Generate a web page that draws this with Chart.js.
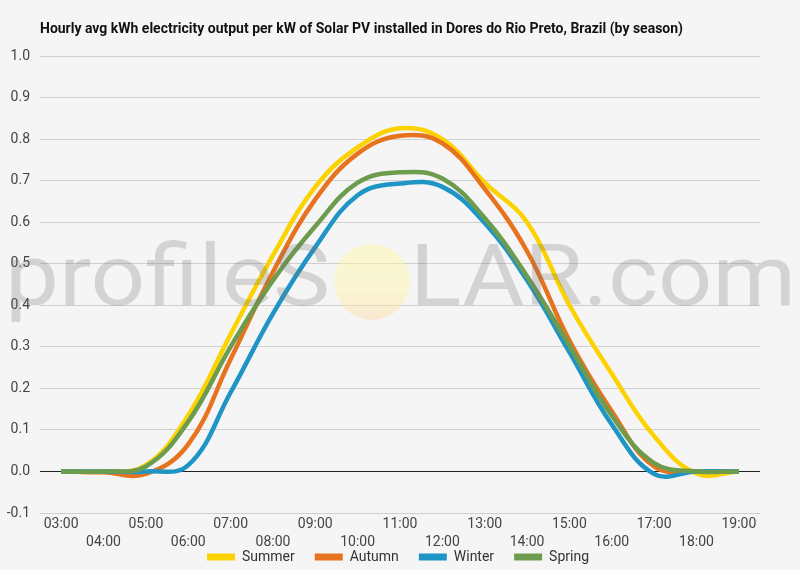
<!DOCTYPE html>
<html>
<head>
<meta charset="utf-8">
<script src="https://cdn.jsdelivr.net/npm/chart.js@4"></script>
<style>
  html, body { margin: 0; padding: 0; background: #f5f5f5; }
  #wrap { width: 800px; height: 570px; }
</style>
</head>
<body>
<div id="wrap"><canvas id="c" width="800" height="570"></canvas></div>
<script>
const titleText = 'Hourly avg kWh electricity output per kW of Solar PV installed in Dores do Rio Preto, Brazil (by season)';
const hours = ['03:00','04:00','05:00','06:00','07:00','08:00','09:00','10:00','11:00','12:00','13:00','14:00','15:00','16:00','17:00','18:00','19:00'];
const seriesNames = ['Summer', 'Autumn', 'Winter', 'Spring'];
const summer = [0, 0, 0.015, 0.135, 0.33, 0.52, 0.685, 0.78, 0.826, 0.80, 0.695, 0.60, 0.40, 0.235, 0.085, -0.005, 0];
const autumn = [0, -0.002, -0.006, 0.065, 0.27, 0.48, 0.655, 0.765, 0.808, 0.79, 0.68, 0.53, 0.315, 0.145, 0.012, 0, 0];
const winter = [0, 0, 0, 0.015, 0.19, 0.38, 0.54, 0.665, 0.693, 0.685, 0.598, 0.46, 0.287, 0.113, -0.006, 0, 0];
const spring = [0, 0, 0.012, 0.12, 0.30, 0.46, 0.59, 0.695, 0.72, 0.705, 0.61, 0.47, 0.303, 0.134, 0.02, 0, 0];
const yMin = -0.1, yMax = 1.0, yStep = 0.1;

const colors = ['#fcd200', '#e8731f', '#1f95c6', '#6e9c4f'];
const values = [summer, autumn, winter, spring];

const bgPlugin = {
  id: 'bg',
  beforeDraw(chart) {
    const ctx = chart.ctx;
    ctx.save();
    ctx.fillStyle = '#f5f5f5';
    ctx.fillRect(0, 0, chart.width, chart.height);
    ctx.restore();
  }
};

const legendFitPlugin = {
  id: 'legendFit',
  beforeInit(chart) {
    const origFit = chart.legend.fit;
    chart.legend.fit = function () {
      origFit.bind(chart.legend)();
      this.height = 16.6;
    };
  },
  afterLayout(chart) {
    const lg = chart.legend;
    const target = 557;
    const lineH = 14;
    const pad = lg.options.labels.padding;
    const curCenter = lg.top + pad + lineH / 2;
    const d = target - curCenter;
    lg.top += d;
    lg.bottom = chart.height;
    lg.left += 18;
    lg.right += 18;
  }
};

const titlePlugin = {
  id: 'customTitle',
  afterDraw(chart) {
    const ctx = chart.ctx;
    ctx.save();
    ctx.font = 'bold 15px Roboto';
    ctx.fillStyle = '#111';
    ctx.textBaseline = 'alphabetic';
    const w = ctx.measureText(titleText).width;
    const target = 643;
    ctx.translate(40, 33);
    ctx.scale(target / w, 1);
    ctx.fillText(titleText, 0, 0);
    ctx.restore();
  }
};

const watermarkPlugin = {
  id: 'watermark',
  afterDatasetsDraw(chart) {
    const ctx = chart.ctx;
    ctx.save();
    const cx = 372, cy = 282, r = 38;
    const g = ctx.createLinearGradient(0, cy - r, 0, cy + r);
    g.addColorStop(0, 'rgba(255,250,160,0.45)');
    g.addColorStop(0.6, 'rgba(255,245,170,0.45)');
    g.addColorStop(1, 'rgba(255,215,160,0.45)');
    ctx.fillStyle = g;
    ctx.beginPath();
    ctx.arc(cx, cy, r, 0, Math.PI * 2);
    ctx.fill();
    ctx.font = '86px Roboto';
    ctx.fillStyle = 'rgba(110,110,110,0.25)';
    ctx.textBaseline = 'alphabetic';
    const drawFit = (txt, x0, x1, base) => {
      const w = ctx.measureText(txt).width;
      ctx.save();
      ctx.translate(x0, base);
      ctx.scale((x1 - x0) / w, 1);
      ctx.fillText(txt, 0, 0);
      ctx.restore();
    };
    drawFit('profileS', 5, 330, 305);
    drawFit('LAR.com', 410, 796, 305);
    ctx.restore();
  }
};

const datasets = seriesNames.map((name, i) => ({
  label: name,
  data: values[i],
  borderColor: colors[i],
  backgroundColor: colors[i],
  borderWidth: 4.5,
  pointRadius: 0,
  pointHoverRadius: 0,
  tension: 0.4,
  fill: false,
  order: 4 - i
}));

new Chart(document.getElementById('c'), {
  type: 'line',
  data: { labels: hours, datasets },
  plugins: [bgPlugin, legendFitPlugin, watermarkPlugin, titlePlugin],
  options: {
    responsive: false,
    animation: false,
    devicePixelRatio: 1,
    layout: { padding: { top: 56, right: 40, left: 0, bottom: 0 } },
    plugins: {
      title: { display: false },
      tooltip: { enabled: false },
      legend: {
        position: 'bottom',
        labels: {
          font: { family: 'Roboto', size: 14 },
          color: '#333',
          boxWidth: 28,
          boxHeight: 7,
          padding: 20,
          sort: (a, b) => a.datasetIndex - b.datasetIndex,
          generateLabels(chart) {
            const items = Chart.defaults.plugins.legend.labels.generateLabels(chart);
            items.forEach(it => { it.lineWidth = 0; it.fillStyle = colors[it.datasetIndex]; });
            return items;
          }
        }
      }
    },
    scales: {
      x: {
        offset: true,
        grid: { display: false, drawTicks: false },
        border: { display: false },
        ticks: {
          autoSkip: false,
          maxRotation: 0,
          minRotation: 0,
          padding: 2,
          color: '#444',
          font: { family: 'Roboto', size: 14, lineHeight: 1.3 },
          callback(value, index) {
            const lbl = hours[index];
            return index % 2 === 0 ? [lbl] : ['', lbl];
          }
        }
      },
      y: {
        min: yMin,
        max: yMax,
        afterFit(scale) { scale.width = 40; },
        grid: {
          color: ctx => (Math.abs(ctx.tick.value) < 1e-9 ? '#222' : '#cfcfcf'),
          lineWidth: 1,
          drawTicks: false
        },
        border: { display: false },
        ticks: {
          stepSize: yStep,
          padding: 10,
          color: '#444',
          font: { family: 'Roboto', size: 14 },
          callback: v => Number(v).toFixed(1)
        }
      }
    }
  }
});
</script>
</body>
</html>
